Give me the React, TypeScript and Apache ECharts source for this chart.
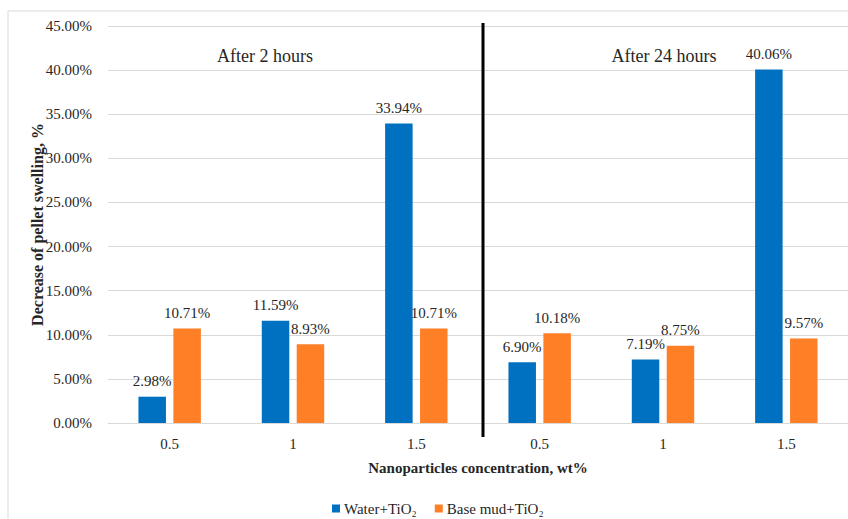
import React, { useEffect, useRef } from "react";
import * as echarts from "echarts";

const categories = ["0.5", "1", "1.5", "0.5", "1", "1.5"];
const waterTiO2 = [2.98, 11.59, 33.94, 6.9, 7.19, 40.06];
const baseMudTiO2 = [10.71, 8.93, 10.71, 10.18, 8.75, 9.57];
const seriesNames = ["Water+TiO₂", "Base mud+TiO₂"];
const panelTitles = ["After 2 hours", "After 24 hours"];
const yMax = 45;
const yInterval = 5;

const FONT = "'Liberation Serif', 'Times New Roman', serif";

export default function App() {
  const ref = useRef<HTMLDivElement>(null);
  useEffect(() => {
    if (!ref.current) return;
    const chart = echarts.init(ref.current, null, { renderer: "svg" });
    const labelStyle = {
      show: true,
      position: "top" as const,
      distance: 8,
      color: "#262626",
      fontFamily: FONT,
      fontSize: 15,
      formatter: (p: any) => Number(p.value).toFixed(2) + "%",
    };
    chart.setOption({
      animation: false,
      backgroundColor: "#ffffff",
      textStyle: { fontFamily: FONT },
      title: [
        {
          text: panelTitles[0],
          left: 260,
          top: 42,
          textAlign: "center",
          textStyle: { fontFamily: FONT, fontSize: 18, fontWeight: "normal", color: "#262626" },
        },
        {
          text: panelTitles[1],
          left: 659,
          top: 42,
          textAlign: "center",
          textStyle: { fontFamily: FONT, fontSize: 18, fontWeight: "normal", color: "#262626" },
        },
      ],
      legend: {
        left: 327,
        top: 496,
        itemWidth: 8,
        itemHeight: 8,
        itemGap: 18,
        icon: "rect",
        textStyle: { fontFamily: FONT, fontSize: 15, color: "#262626", padding: [0, 0, 0, -1] },
        data: seriesNames,
      },
      grid: { left: 108, right: -1, top: 26, bottom: 96 },
      xAxis: {
        type: "category",
        data: categories,
        axisLine: { show: true, lineStyle: { color: "#d9d9d9", width: 1 } },
        axisTick: { show: false },
        axisLabel: { color: "#262626", fontFamily: FONT, fontSize: 15, margin: 13, interval: 0 },
        name: "Nanoparticles concentration, wt%",
        nameLocation: "middle",
        nameGap: 37,
        nameMoveOverlap: false,
        nameTextStyle: { fontFamily: FONT, fontSize: 15, fontWeight: "bold", color: "#262626" },
      },
      yAxis: {
        type: "value",
        min: 0,
        max: yMax,
        interval: yInterval,
        axisLine: { show: false },
        axisTick: { show: false },
        splitLine: { lineStyle: { color: "#d9d9d9", width: 1 } },
        axisLabel: {
          color: "#262626",
          fontFamily: FONT,
          fontSize: 15,
          margin: 16,
          formatter: (v: number) => v.toFixed(2) + "%",
        },
        name: "Decrease of pellet swelling, %",
        nameLocation: "middle",
        nameGap: 63,
        nameMoveOverlap: false,
        nameTextStyle: { fontFamily: FONT, fontSize: 16, fontWeight: "bold", color: "#262626" },
      },
      series: [
        {
          name: seriesNames[0],
          type: "bar",
          data: waterTiO2,
          barWidth: 27.5,
          barGap: "27%",
          itemStyle: { color: "#0070C0" },
          label: labelStyle,
        },
        {
          name: seriesNames[1],
          type: "bar",
          data: baseMudTiO2,
          barWidth: 27.5,
          barGap: "27%",
          itemStyle: { color: "#FF7F27" },
          label: labelStyle,
        },
      ],
      graphic: [
        {
          type: "rect",
          shape: { x: 8, y: 11, width: 860, height: 540 },
          style: { fill: "none", stroke: "#d9d9d9", lineWidth: 1 },
          silent: true,
        },
        {
          type: "line",
          shape: { x1: 483, y1: 23, x2: 483, y2: 437 },
          style: { stroke: "#000000", lineWidth: 3 },
          silent: true,
          z: 100,
        },
      ],
    });
    return () => chart.dispose();
  }, []);
  return (
    <div
      ref={ref}
      style={{ position: "fixed", left: 0, top: 0, width: 848, height: 519 }}
    />
  );
}
